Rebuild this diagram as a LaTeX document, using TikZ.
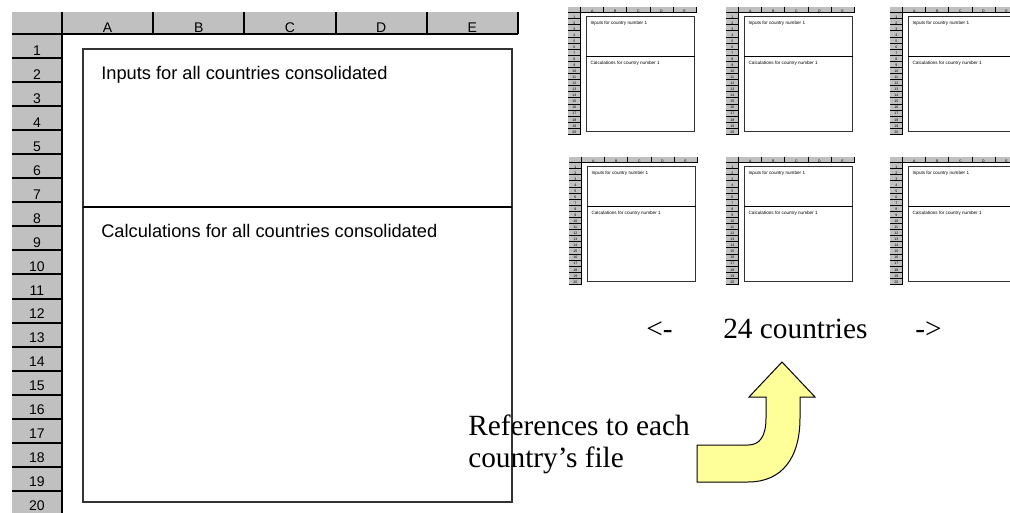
\documentclass[tikz,border=0pt]{standalone}
\usepackage{fontspec}
\setmainfont{Liberation Serif}
\setsansfont{Liberation Sans}
\usepackage{tikz}
\definecolor{cellgray}{HTML}{C0C0C0}
\definecolor{arrowyellow}{HTML}{FFFF99}
\tikzstyle{hdr}=[inner sep=0, anchor=base, font=\sffamily\fontsize{10.5}{12}\selectfont]
\tikzstyle{boxtext}=[inner sep=0, anchor=base west, font=\sffamily\fontsize{13.7}{16}\selectfont]
\tikzstyle{note}=[inner sep=0, anchor=base west, font=\rmfamily\fontsize{22}{24}\selectfont]

% one worksheet, drawn in pixel units from its top left corner
\newcommand{\drawsheet}[5]{%
  \fill[cellgray] (0,0) rectangle (506,22);
  \fill[cellgray] (0,22) rectangle (50,503);
  \foreach \c [count=\i] in {A,B,C,D,E} {
    \node[hdr] (#1col\c) at ({4.4+91.2*\i},20.5) {\c};
    \draw[line width=#2] ({50+91.2*\i},0) -- ++(0,22);
  }
  \foreach \r in {1,...,20} {
    \node[hdr] (#1row\r) at (25,{19.6+23.95*\r}) {\r};
    \draw[line width=#2] (0,{22+24.05*\r}) -- ++(50,0);
  }
  \draw[line width=#2] (0,22) -- (506,22);
  \draw[line width=#2] (50,0) -- (50,503);
  \draw[line width=#3, black!80] (71,37) rectangle (500,490);
  \draw[line width=#3] (71,195) -- (500,195);
  \node[boxtext] (#1in) at (89,68) {#4};
  \node[boxtext] (#1calc) at (89,226) {#5};
}

\begin{document}
\begin{tikzpicture}[x=0.75pt, y=-0.75pt]
\useasboundingbox (0,0) rectangle (1010,513);

% consolidated file
\begin{scope}[shift={(12,12)}]
  \drawsheet{all}{1.5pt}{0.8pt}{Inputs for all countries consolidated}{Calculations for all countries consolidated}
\end{scope}

% country files
\foreach \px/\py/\k in {568/7/a, 726/7/b, 890/7/c, 569/157/d, 726/157/e, 890/157/f} {
  \begin{scope}[shift={(\px,\py)}, scale=0.253, transform shape]
    \drawsheet{\k}{0.5pt}{0.6pt}{Inputs for country number 1}{Calculations for country number 1}
  \end{scope}
}

\node[note] (left) at (646,339) {<-};
\node[note] (count) at (723,339) {24 countries};
\node[note] (right) at (915,339) {->};

\draw[fill=arrowyellow, line width=0.75pt] (697,445) -- (748,445) .. controls (760,445) and (766,436) .. (766,418) -- (766,397) -- (749,397) -- (782,362) -- (815,397) -- (800,397) -- (800,418) .. controls (800,458) and (782,482) .. (748,482) -- (697,482) -- cycle;

\node[note] (refA) at (468,435) {References to each};
\node[note] (refB) at (468,467) {country’s file};
\end{tikzpicture}
\end{document}
